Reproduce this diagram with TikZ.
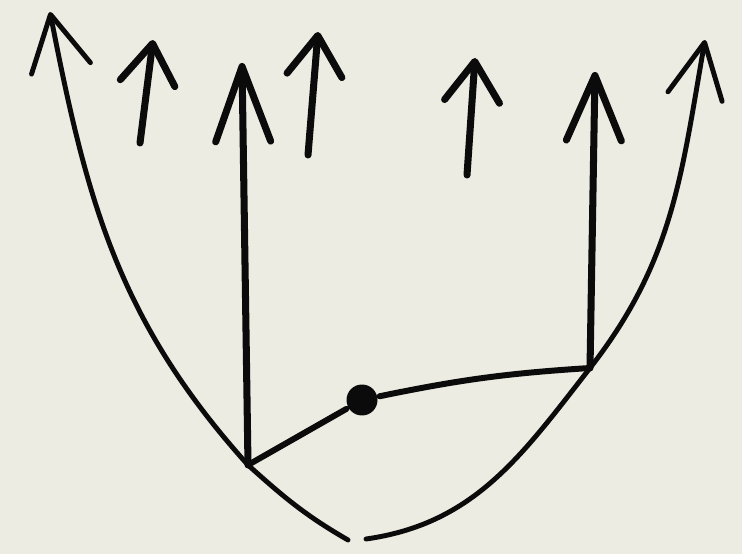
\documentclass[tikz,border=0pt]{standalone}
\usetikzlibrary{arrows.meta}
\definecolor{cpaper}{HTML}{ECECE2}
\definecolor{cink}{HTML}{0B0B0B}
\tikzset{
  every picture/.style={line width=2.8pt, line cap=round, line join=round},
  curve/.style={draw=cink, line width=2.8pt},
  arrow/.style={-{Straight Barb[length=#1, width=1.1cm, round]}, draw=cink, line width=4pt},
  arrow/.default=0.8cm,
  dotnode/.style={circle, fill=cink, inner sep=0pt, minimum size=0.62cm},
}

\begin{document}
\begin{tikzpicture}[x=0.02cm, y=0.02cm]
  \fill[cpaper] (0,0) rectangle (742,554);
  \useasboundingbox (0,0) rectangle (742,554);
  % the two branches of the parabola
  \coordinate (bl) at (348,14);
  \coordinate (br) at (366,15);
  \coordinate (L) at (248,89);
  \coordinate (R) at (590,186);
  \coordinate (tl) at (50,542);
  \coordinate (tr) at (705,514);
  \draw[curve, -{Straight Barb[length=1.1cm, width=1.2cm, round]}] (bl) to[out=150, in=-42] (L) to[out=132, in=-79] (tl);
  \draw[curve, -{Straight Barb[length=1.1cm, width=1.1cm, round]}] (br) to[out=8, in=-128] (R) to[out=52, in=-100] (tr);
  % the point and its two links
  \node[dotnode] (p) at (362,154) {};
  \draw[curve, line width=3.4pt] (p) -- (L);
  \draw[curve, line width=3.4pt] (p) to[bend left=4] (R);
  % normals at the two feet
  \coordinate (ul) at (242,491);
  \coordinate (ur) at (595,482);
  \draw[arrow=1.5cm] (L) -- (ul);
  \draw[arrow=1.3cm] (R) -- (ur);
  % free arrows
  \coordinate (a1) at (140,411); \coordinate (b1) at (153,514);
  \coordinate (a2) at (308,399); \coordinate (b2) at (318,522);
  \coordinate (a3) at (467,379); \coordinate (b3) at (475,496);
  \draw[arrow] (a1) -- (b1);
  \draw[arrow] (a2) -- (b2);
  \draw[arrow] (a3) -- (b3);
\end{tikzpicture}
\end{document}
